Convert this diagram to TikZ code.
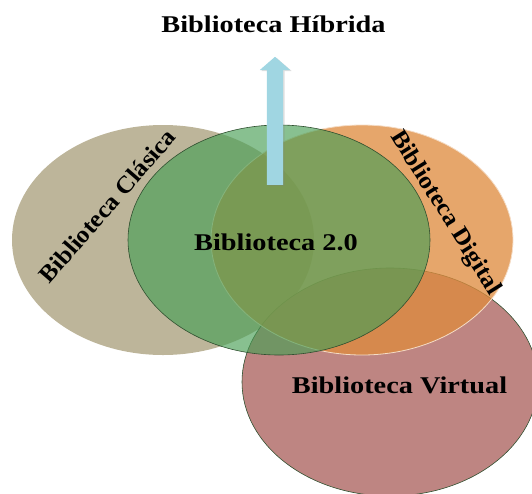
\documentclass[tikz,border=0pt]{standalone}
\usepackage{fontspec}
\setmainfont{Liberation Serif}
\newfontfamily\anchafont[FakeStretch=1.18]{Liberation Serif}
\newfontfamily\giradafont[FakeStretch=1.06]{Liberation Serif}
\usetikzlibrary{shapes, shapes.geometric, shapes.arrows, shadows, positioning}
\definecolor{clasica}{RGB}{189,181,154}
\definecolor{virtual}{RGB}{190,133,130}
\definecolor{digital}{RGB}{222,139,62}
\definecolor{dospunto}{RGB}{72,158,85}
\definecolor{borde}{RGB}{47,79,47}
\definecolor{flecha}{RGB}{160,214,226}

\begin{document}
\begin{tikzpicture}[x=1pt, y=-1pt]

	\tikzstyle{conjunto}=[ellipse, minimum width = 302pt, minimum height = 230pt, inner sep=0pt, outer sep=0pt]
	\tikzstyle{titulo}=[font=\anchafont\bfseries\fontsize{24}{28}\selectfont, anchor=base, inner sep=0pt]
	\tikzstyle{girado}=[font=\giradafont\bfseries\fontsize{24}{28}\selectfont, inner sep=0pt]

	\useasboundingbox (0,0) rectangle (532,493);

	% colocacion de los conjuntos
	\node[conjunto, fill=clasica] 	(clasica) at (163,240) 	{};
	\node[conjunto, fill=virtual, draw=borde, line width=0.6pt, minimum width=296pt, minimum height=228pt] 	(virtual) at (390,382) 	{};
	\node[conjunto, fill=digital, fill opacity=0.77, draw=digital!30!white, line width=0.8pt] 	(digital) at (362,240) 	{};
	\node[conjunto, fill=dospunto, fill opacity=0.65, draw=borde, line width=0.6pt] 	(dos) at (279,240) 	{};

	% flecha hacia arriba
	\node[single arrow, rotate=90, anchor=tail, fill=flecha, minimum height=128pt, inner sep=8pt,
		single arrow head extend=7pt, single arrow tip angle=98,
		drop shadow={opacity=0.25, shadow xshift=1.5pt, shadow yshift=-1pt}] 	(flecha) at (275,185) {};

	% textos
	\node[titulo] 	(hibrida) at (273.5,32) 	{Biblioteca Híbrida};
	\node[titulo] 	(bib20) at (276,250) 	{Biblioteca 2.0};
	\node[titulo] 	(bibvirtual) at (399.5,393) 	{Biblioteca Virtual};
	\node[girado, rotate=49] 	(bibclasica) at (107,206) 	{Biblioteca Clásica};
	\node[girado, rotate=-58] 	(bibdigital) at (445,213) 	{Biblioteca Digital};

\end{tikzpicture}
\end{document}
